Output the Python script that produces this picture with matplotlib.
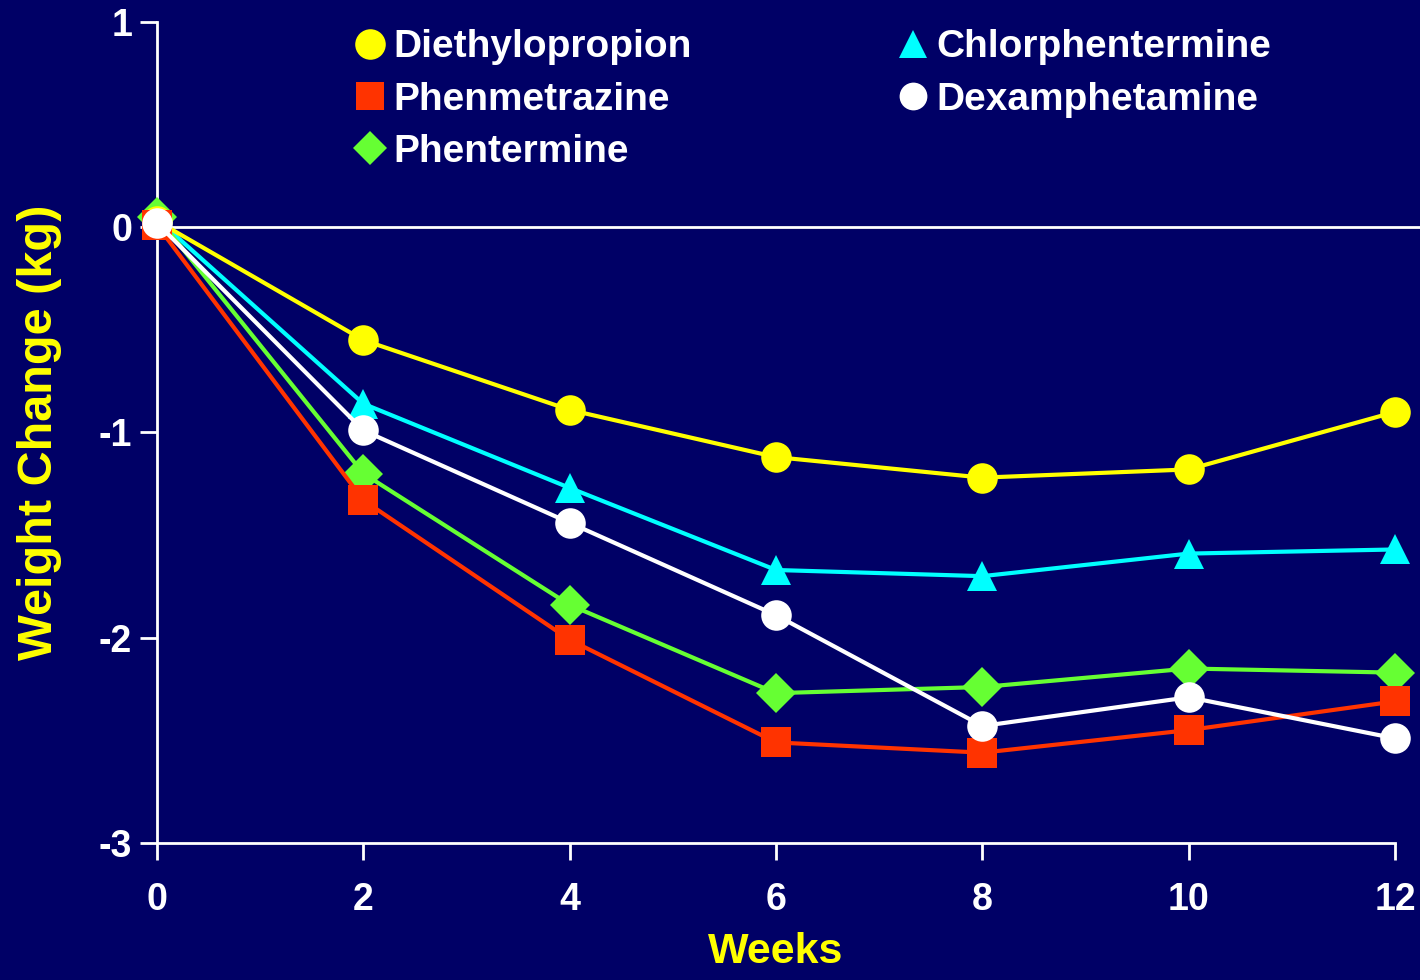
import matplotlib
matplotlib.use("Agg")
import matplotlib.pyplot as plt
from matplotlib.lines import Line2D

plt.rcParams['font.family'] = ['Liberation Sans', 'DejaVu Sans']
plt.rcParams['font.weight'] = 'bold'
plt.rcParams['axes.unicode_minus'] = False

# data
weeks = [0, 2, 4, 6, 8, 10, 12]
diethylpropion = [0.03, -0.55, -0.89, -1.12, -1.22, -1.18, -0.90]
chlorphentermine = [0.04, -0.86, -1.27, -1.67, -1.70, -1.59, -1.57]
dexamphetamine = [0.02, -0.99, -1.44, -1.89, -2.43, -2.29, -2.49]
phentermine = [0.05, -1.20, -1.84, -2.27, -2.24, -2.15, -2.17]
phenmetrazine = [0.01, -1.33, -2.01, -2.51, -2.56, -2.45, -2.31]

bg = '#000066'
fig = plt.figure(figsize=(14.2, 9.8), dpi=100, facecolor=bg)
ax = fig.add_axes([0.1106, 0.1398, 0.8718, 0.8378], facecolor=bg)

# zero reference line, runs past the last week
ax.axhline(0, xmin=0, xmax=1.02, color='white', lw=2, clip_on=False, zorder=1)

series = [
    ('Chlorphentermine', chlorphentermine, '#00FFFF', '^', 21),
    ('Phentermine', phentermine, '#66FF33', 'D', 20),
    ('Diethylpropion', diethylpropion, '#FFFF00', 'o', 22),
    ('Phenmetrazine', phenmetrazine, '#FF3300', 's', 21),
    ('Dexamphetamine', dexamphetamine, 'white', 'o', 22),
]
for i, (name, vals, col, mk, ms) in enumerate(series):
    ax.plot(weeks, vals, color=col, lw=3, marker=mk, markersize=ms,
            markeredgewidth=0, clip_on=False, zorder=3 + i)

ax.set_xlim(0, 12)
ax.set_ylim(-3, 1)
ax.set_xticks(weeks)
ax.set_yticks([-3, -2, -1, 0, 1])
for s in ['top', 'right']:
    ax.spines[s].set_visible(False)
for s in ['left', 'bottom']:
    ax.spines[s].set_color('white')
    ax.spines[s].set_linewidth(2)
ax.tick_params(colors='white', width=2, length=12, labelsize=27, pad=6)
ax.tick_params(axis='x', pad=16)

ax.set_ylabel('Weight Change (kg)', color='#FFFF00', fontsize=35,
              fontweight='bold')
ax.yaxis.set_label_coords(-0.0767, 0.5)
ax.set_xlabel('Weeks', color='#FFFF00', fontsize=31, fontweight='bold',
              labelpad=10)

# legend, column-first order
order = ['Diethylopropion', 'Phenmetrazine', 'Phentermine',
         'Chlorphentermine', 'Dexamphetamine']
styles = {
    'Diethylopropion': ('#FFFF00', 'o', 22),
    'Phenmetrazine': ('#FF3300', 's', 20),
    'Phentermine': ('#66FF33', 'D', 17),
    'Chlorphentermine': ('#00FFFF', '^', 20),
    'Dexamphetamine': ('white', 'o', 20),
}
handles = [Line2D([], [], ls='none', marker=styles[n][1], color=styles[n][0],
                  markersize=styles[n][2], markeredgewidth=0) for n in order]
leg = ax.legend(handles, order, ncol=2, loc='upper left',
                bbox_to_anchor=(0.145, 1.01), frameon=False,
                fontsize=28, labelcolor='white', handlelength=0.9,
                handletextpad=0.15, labelspacing=0.42, columnspacing=5.25,
                borderaxespad=0)
for t in leg.get_texts():
    t.set_fontweight('bold')

fig.savefig('out.png', dpi=100, facecolor=bg)
